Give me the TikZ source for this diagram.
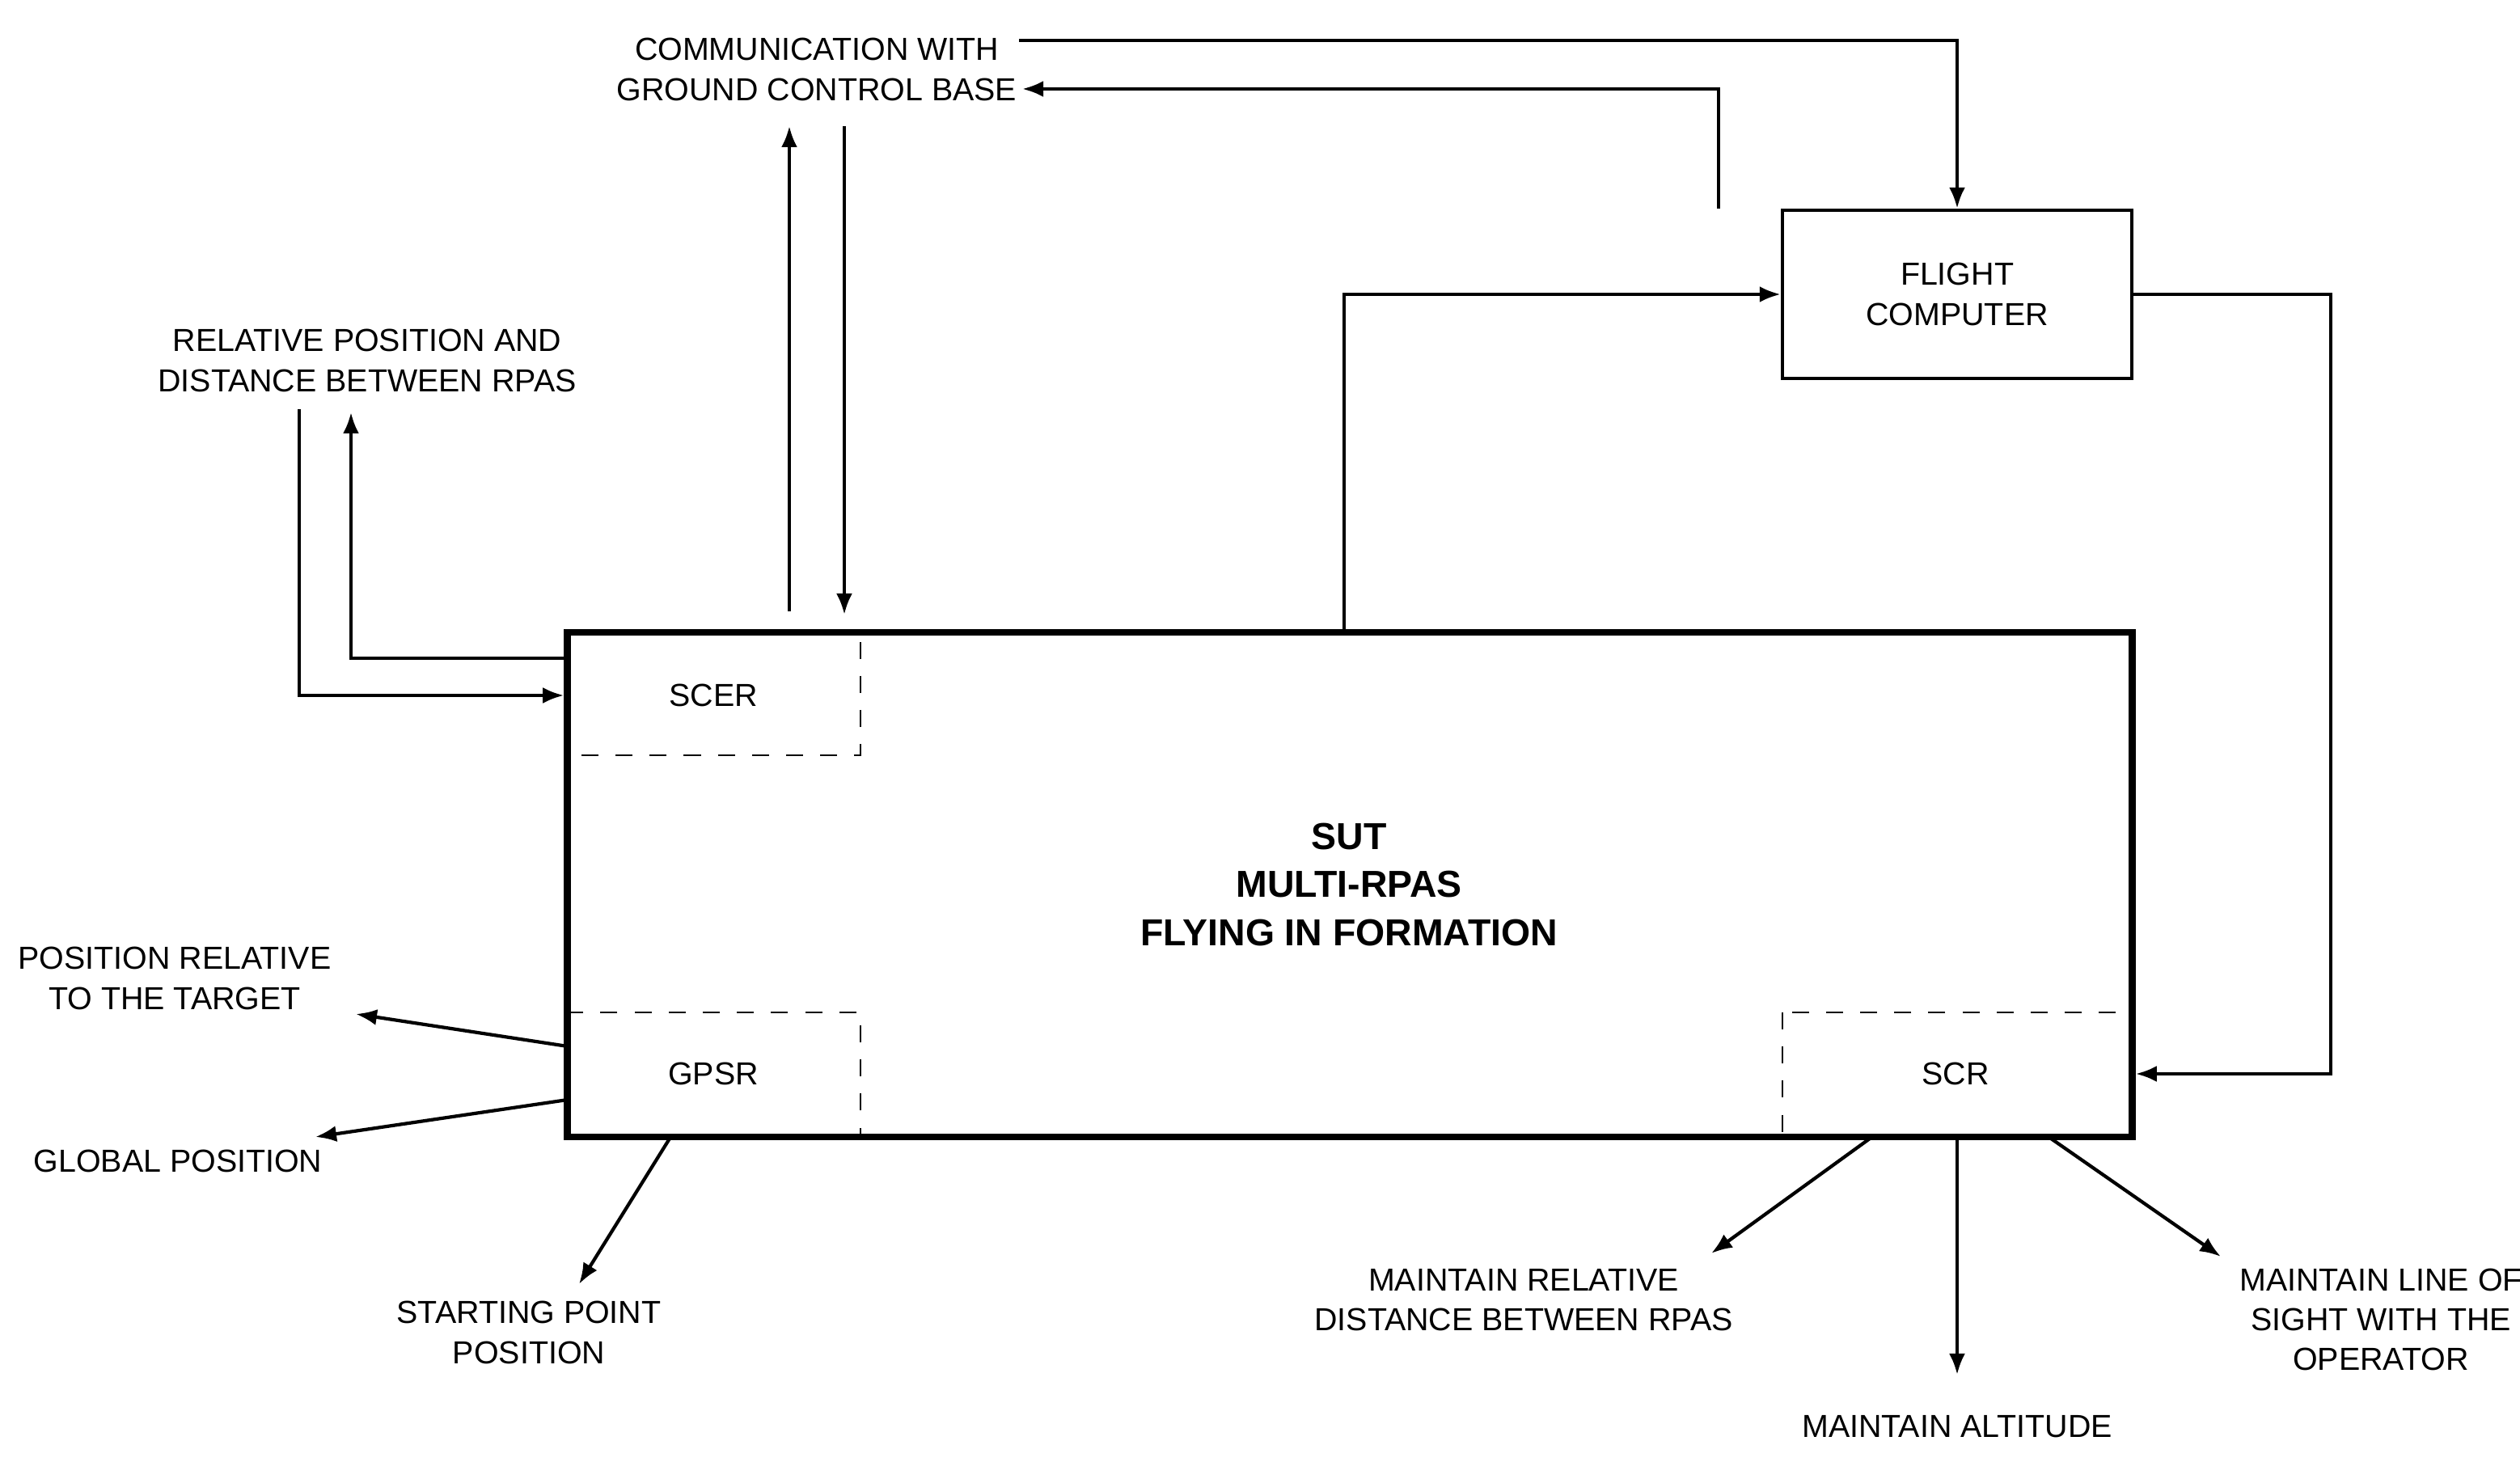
\documentclass[tikz,border=0pt]{standalone}
\usepackage{fontspec}
\setmainfont{Liberation Sans}
\usetikzlibrary{arrows.meta}
\tikzset{
  lbl/.style={align=center, inner sep=0pt, font=\fontsize{5.6}{7}\selectfont},
  flow/.style={-{Latex[length=1.3mm,width=1mm]}, line width=0.6pt},
  sub/.style={draw, dashed, line width=0.25pt}
}
\begin{document}
\begin{tikzpicture}[x=0.01cm, y=-0.01cm]
\useasboundingbox (0,0) rectangle (1558,904);
% main system box and its sub-areas
\draw[sub] (351,391) rectangle (532,467);
\draw[sub] (351,626) rectangle (532,703);
\draw[sub] (1102,626) rectangle (1318,703);
\node[draw, line width=1.2pt, minimum width=9.67cm, minimum height=3.12cm, inner sep=0pt] (sut) at (834.5,547) {};
\node[lbl, font=\bfseries\fontsize{6.6}{8.4}\selectfont] (title) at (834,547) {SUT\\MULTI-RPAS\\FLYING IN FORMATION};
\node[lbl] (scer) at (441,430) {SCER};
\node[lbl] (gpsr) at (441,664) {GPSR};
\node[lbl] (scr) at (1209,664) {SCR};
\node[draw, line width=0.6pt, minimum width=2.16cm, minimum height=1.04cm, lbl] (fc) at (1210,182) {FLIGHT\\COMPUTER};
% outer labels
\node[lbl] (gcb) at (505,43) {COMMUNICATION WITH\\GROUND CONTROL BASE};
\node[lbl] (rel) at (227,223) {RELATIVE POSITION AND\\DISTANCE BETWEEN RPAS};
\node[lbl] (tgt) at (108,605) {POSITION RELATIVE\\TO THE TARGET};
\node[lbl] (glob) at (110,718) {GLOBAL POSITION};
\node[lbl] (start) at (327,824) {STARTING POINT\\POSITION};
\node[lbl] (mrd) at (942,804) {MAINTAIN RELATIVE\\DISTANCE BETWEEN RPAS};
\node[lbl] (alt) at (1210,882) {MAINTAIN ALTITUDE};
\node[lbl] (los) at (1472,816) {MAINTAIN LINE OF\\SIGHT WITH THE\\OPERATOR};
% connector ends
\coordinate (up1) at (488,378);   \coordinate (up2) at (488,78);
\coordinate (dn1) at (522,78);    \coordinate (dn2) at (522,380);
\coordinate (c1) at (630,25);     \coordinate (c2) at (632,55);
\coordinate (r1) at (185,253);    \coordinate (r2) at (217,255);
\coordinate (t2) at (220,627);    \coordinate (g2) at (195,703);
\coordinate (s2) at (358,794);    \coordinate (m2) at (1058,775);
\coordinate (a2) at (1210,850);   \coordinate (l2) at (1373,777);
% connectors
\draw[flow] (up1) -- (up2);
\draw[flow] (dn1) -- (dn2);
\draw[flow] (c1) -| (fc.north);
\draw[flow] ([xshift=-42]fc.north) |- (c2);
\draw[flow] (831,391) |- (fc.west);
\draw[flow] (fc.east) -- (1441,182) |- (sut.east |- scr);
\draw[flow] (r1) |- (sut.west |- scer);
\draw[flow] (351,407) -| (r2);
\draw[flow] (351,647) -- (t2);
\draw[flow] (351,680) -- (g2);
\draw[flow] (414,704) -- (s2);
\draw[flow] (1156,704) -- (m2);
\draw[flow] (1210,704) -- (a2);
\draw[flow] (1268,704) -- (l2);
\end{tikzpicture}
\end{document}
